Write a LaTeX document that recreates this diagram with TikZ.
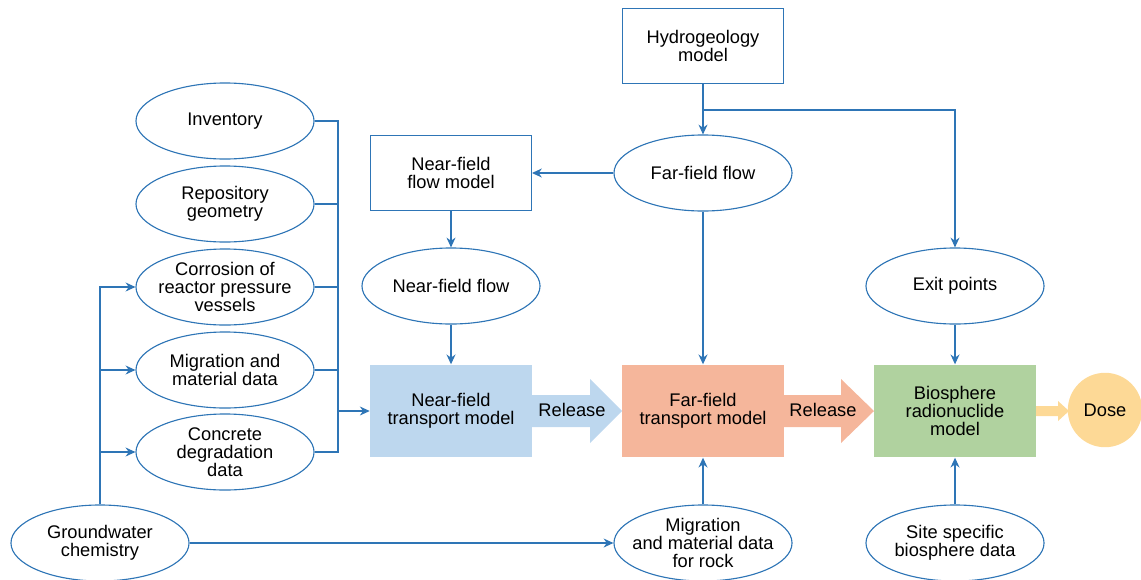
\documentclass[tikz,border=0pt]{standalone}
\usepackage{fontspec}
\setmainfont{Liberation Sans}
\usetikzlibrary{arrows.meta,shapes.geometric,positioning}
\definecolor{LineBlue}{RGB}{46,117,182}
\definecolor{NearBlue}{RGB}{189,215,238}
\definecolor{FarSalmon}{RGB}{245,182,155}
\definecolor{BioGreen}{RGB}{176,210,159}
\definecolor{DoseYellow}{RGB}{253,217,150}
\tikzset{
  oval/.style={ellipse,draw=LineBlue,line width=0.8pt,fill=white,
    minimum width=4.45cm,minimum height=1.9cm,inner sep=-8pt,align=center},
  plainbox/.style={rectangle,draw=LineBlue,line width=0.8pt,
    minimum width=4.02cm,minimum height=1.88cm,inner sep=0pt,align=center},
  modelbox/.style={rectangle,minimum width=4.05cm,minimum height=2.32cm,
    inner sep=0pt,align=center},
  link/.style={draw=LineBlue,line width=0.8pt}
}

\begin{document}
\begin{tikzpicture}[x=0.025cm,y=-0.025cm,>={Stealth[length=7pt,width=6.4pt]},
    font=\fontsize{13}{12.7}\selectfont]
  \useasboundingbox (0,0) rectangle (1141,579);
  \node[plainbox] (hydro) at (703,46) {Hydrogeology\\model};
  \node[oval] (ffflow) at (703,173) {Far-field flow};
  \node[plainbox] (nfmodel) at (451,173) {Near-field\\flow model};
  \node[oval] (nfflow) at (451,286) {Near-field flow};
  \node[oval] (exit) at (955,286) {Exit points};
  \node[oval] (inv) at (225,121) {Inventory};
  \node[oval] (geom) at (225,204) {Repository\\geometry};
  \node[oval] (corr) at (225,287) {Corrosion of\\reactor pressure\\vessels};
  \node[oval] (migr) at (225,370) {Migration and\\material data};
  \node[oval] (conc) at (225,452) {Concrete\\degradation\\data};
  \node[oval] (gw) at (100,543) {Groundwater\\chemistry};
  \node[oval] (rock) at (703,543) {Migration\\and material data\\for rock};
  \node[oval] (site) at (955,543) {Site specific\\biosphere data};
  \node[modelbox,fill=NearBlue] (nftm) at (451,411) {Near-field\\transport model};
  \node[modelbox,fill=FarSalmon] (fftm) at (703,411) {Far-field\\transport model};
  \node[modelbox,fill=BioGreen] (bio) at (955,411) {Biosphere\\radionuclide\\model};
  \fill[NearBlue] (532,395) -- (590,395) -- (590,379) -- (622,411)
    -- (590,443) -- (590,427) -- (532,427) -- cycle;
  \fill[FarSalmon] (783,395) -- (841,395) -- (841,379) -- (874,411)
    -- (841,443) -- (841,427) -- (783,427) -- cycle;
  \fill[DoseYellow] (1036,406) -- (1058,406) -- (1058,401) -- (1069,411)
    -- (1058,421) -- (1058,416) -- (1036,416) -- cycle;
  \node[circle,fill=DoseYellow,minimum size=1.86cm,inner sep=0pt] (dose)
    at (1105,410) {Dose};
  \node (relnear) at (572,410) {Release};
  \node (relfar) at (823,410) {Release};
  \draw[link,->] (hydro.south) -- (ffflow.north);
  \coordinate (split) at (703,110);
  \draw[link,->] (split) -| (exit.north);
  \draw[link,->] (ffflow.west) -- (nfmodel.east);
  \draw[link,->] (nfmodel.south) -- (nfflow.north);
  \draw[link,->] (nfflow.south) -- (nftm.north);
  \draw[link,->] (ffflow.south) -- (fftm.north);
  \draw[link,->] (exit.south) -- (bio.north);
  \draw[link,->] (rock.north) -- (fftm.south);
  \draw[link,->] (site.north) -- (bio.south);
  \draw[link,->] (gw.east) -- (rock.west);
  \coordinate (join) at (338,411);
  \draw[link] (inv.east) -- (inv.east -| join) -- (conc.east -| join) -- (conc.east);
  \foreach \n in {geom,corr,migr}
    \draw[link] (\n.east) -- (\n.east -| join);
  \draw[link,->] (join) -- (nftm.west);
  \draw[link,->] (gw.north) |- (corr.west);
  \foreach \n in {migr,conc}
    \draw[link,->] (gw.north |- \n.west) -- (\n.west);
\end{tikzpicture}
\end{document}
